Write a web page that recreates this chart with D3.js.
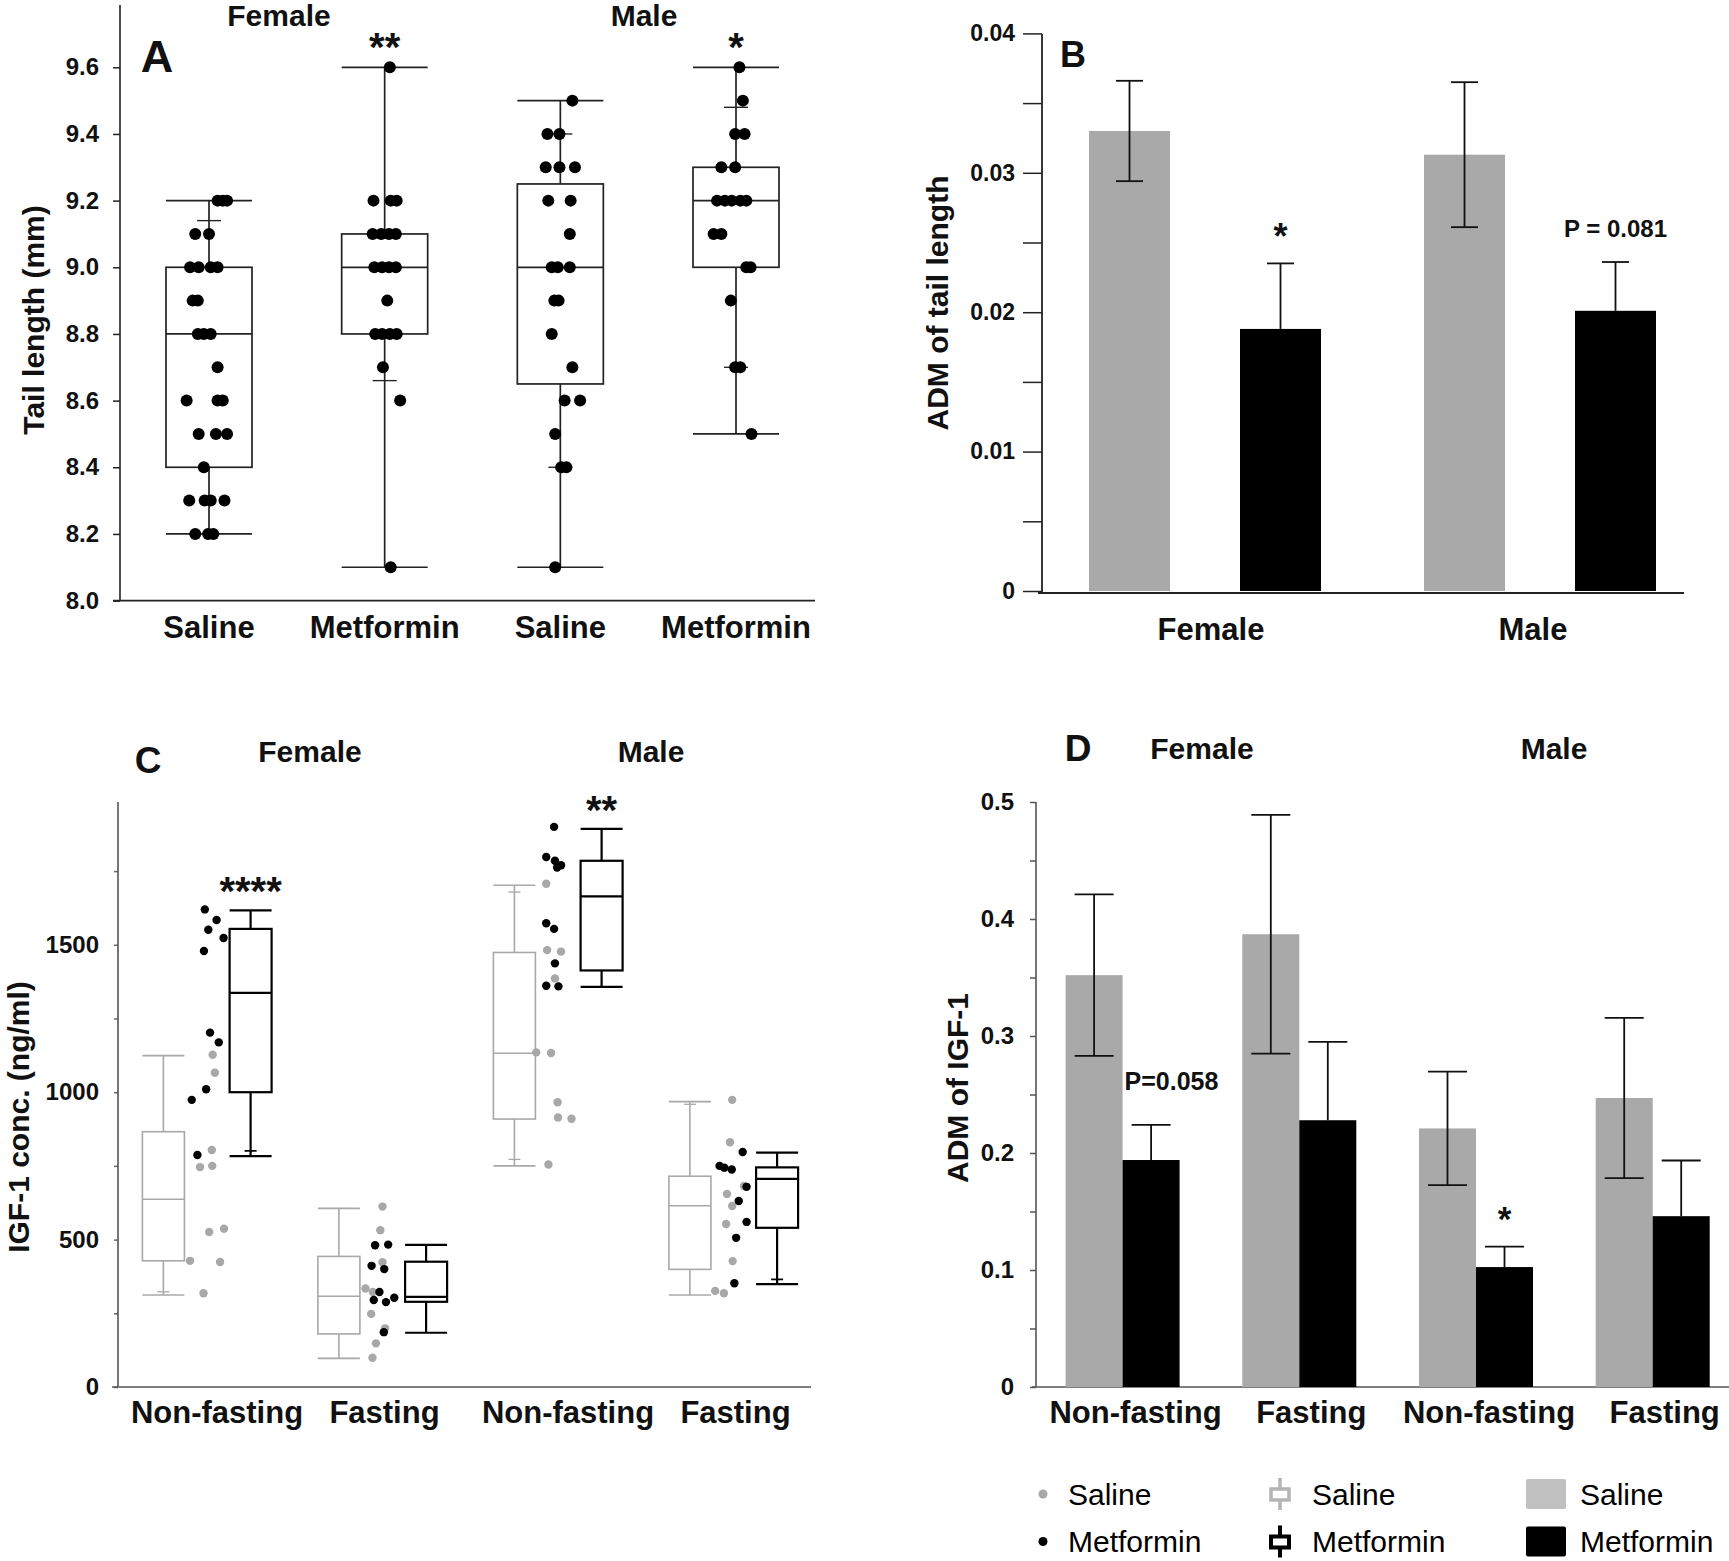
<!DOCTYPE html>
<html>
<head>
<meta charset="utf-8">
<script src="https://cdn.jsdelivr.net/npm/d3@7"></script>
<style>
  body { margin: 0; background: #fff; }
</style>
</head>
<body>
<svg id="fig" width="1729" height="1561"></svg>
<script>
/* Four-panel figure: tail length (A, B) and IGF-1 (C, D), saline vs metformin */

// ── Panel A: tail length box plots ─────────────────────────────
const tailGroups = ['F-Saline', 'F-Metformin', 'M-Saline', 'M-Metformin'];
const tailTickLabels = ['Saline', 'Metformin', 'Saline', 'Metformin'];
const tailYTicks = [8.0, 8.2, 8.4, 8.6, 8.8, 9.0, 9.2, 9.4, 9.6];
// [min, q1, median, q3, max]
const tailBoxes = [
  [8.2, 8.4, 8.8, 9.0, 9.2],
  [8.1, 8.8, 9.0, 9.1, 9.6],
  [8.1, 8.65, 9.0, 9.25, 9.5],
  [8.5, 9.0, 9.2, 9.3, 9.6]
];
const tailPctMarks = [[9.14], [8.66], [9.40, 8.40], [9.48, 8.70]];
const tailStars = ['', '**', '', '*'];
// [value, jitter as share of box width]
const tailPoints = [
  [[9.2,0.10],[9.2,0.16],[9.2,0.21],[9.1,-0.16],[9.1,0.0],[9.0,-0.22],[9.0,-0.12],[9.0,0.02],[9.0,0.10],
   [8.9,-0.19],[8.9,-0.13],[8.8,-0.13],[8.8,-0.06],[8.8,0.02],[8.7,0.10],[8.6,-0.26],[8.6,0.10],[8.6,0.16],
   [8.5,-0.12],[8.5,0.08],[8.5,0.21],[8.4,-0.06],[8.3,-0.23],[8.3,-0.05],[8.3,0.02],[8.3,0.18],
   [8.2,-0.16],[8.2,-0.01],[8.2,0.05]],
  [[9.6,0.06],[9.2,-0.13],[9.2,0.07],[9.2,0.14],[9.1,-0.14],[9.1,-0.04],[9.1,0.05],[9.1,0.13],
   [9.0,-0.12],[9.0,-0.03],[9.0,0.05],[9.0,0.13],[8.9,0.03],[8.8,-0.11],[8.8,-0.03],[8.8,0.06],[8.8,0.14],
   [8.7,-0.02],[8.6,0.18],[8.1,0.07]],
  [[9.5,0.14],[9.4,-0.15],[9.4,-0.01],[9.3,-0.17],[9.3,-0.01],[9.3,0.17],[9.2,-0.14],[9.2,0.12],[9.1,0.11],
   [9.0,-0.10],[9.0,-0.03],[9.0,0.11],[8.9,-0.07],[8.9,-0.02],[8.8,-0.10],[8.7,0.14],[8.6,0.05],[8.6,0.23],
   [8.5,-0.06],[8.4,0.01],[8.4,0.07],[8.1,-0.06]],
  [[9.6,0.04],[9.5,0.08],[9.4,-0.01],[9.4,0.10],[9.3,-0.17],[9.3,-0.01],[9.2,-0.22],[9.2,-0.13],[9.2,-0.05],
   [9.2,0.05],[9.2,0.12],[9.1,-0.26],[9.1,-0.17],[9.0,0.12],[9.0,0.17],[8.9,-0.06],[8.7,-0.01],[8.7,0.05],
   [8.5,0.18]]
];

// ── Panel B: ADM of tail length ─────────────────────────────────
const sexes = ['Female', 'Male'];
const tailAdmSaline = [0.0330, 0.0313];
const tailAdmSalineErr = [0.0036, 0.0052];
const tailAdmMetformin = [0.0188, 0.0201];
const tailAdmMetforminErr = [0.0047, 0.0035];
const tailAdmNotes = ['*', 'P = 0.081'];
const tailAdmTicks = [0, 0.005, 0.01, 0.015, 0.02, 0.025, 0.03, 0.035, 0.04];

// ── Panel C: IGF-1 box plots ────────────────────────────────────
const igfConds = ['F-NF', 'F-F', 'M-NF', 'M-F'];
const igfCondLabels = ['Non-fasting', 'Fasting', 'Non-fasting', 'Fasting'];
const igfYTicks = [0, 250, 500, 750, 1000, 1250, 1500, 1750];
const igfSalineBoxes = [
  [312, 428, 637, 866, 1124],
  [97, 180, 308, 443, 606],
  [750, 909, 1132, 1474, 1702],
  [312, 399, 615, 715, 968]
];
const igfMetforminBoxes = [
  [783, 1000, 1337, 1554, 1617],
  [184, 289, 306, 425, 482],
  [1357, 1413, 1664, 1785, 1893],
  [349, 540, 706, 745, 795]
];
const igfSalineMarks = [[323], [], [1679, 772], [959]];
const igfMetforminMarks = [[801], [], [], [365]];
const igfStars = ['****', '', '**', ''];
// [value, jitter as share of box offset]
const igfSalinePoints = [
  [[1127,0.13],[1066,0.18],[804,0.11],[746,-0.16],[750,0.12],[526,0.05],[537,0.39],[428,-0.39],[424,0.30],[318,-0.08]],
  [[612,0.0],[532,-0.05],[423,0.0],[334,-0.39],[322,-0.22],[248,-0.26],[199,0.06],[148,-0.15],[99,-0.23]],
  [[1707,-0.27],[1482,-0.25],[1477,0.07],[1386,-0.07],[1135,-0.5],[1133,-0.16],[966,-0.01],[914,0.0],[910,0.31],[755,-0.22]],
  [[974,-0.03],[830,-0.08],[682,0.24],[655,-0.15],[614,-0.03],[553,-0.17],[427,-0.02],[326,-0.42],[318,-0.22]]
];
const igfMetforminPoints = [
  [[1620,-0.05],[1584,0.22],[1551,0.03],[1523,0.38],[1479,-0.07],[1202,0.07],[1169,0.27],[1010,-0.02],[974,-0.35],[787,-0.22]],
  [[481,-0.17],[483,0.13],[411,-0.25],[400,0.04],[322,-0.07],[295,-0.2],[288,0.08],[303,0.27],[186,0.03]],
  [[1900,-0.09],[1798,-0.27],[1785,-0.07],[1770,0.07],[1762,-0.02],[1573,-0.27],[1554,-0.09],[1437,-0.07],[1361,-0.27],[1359,0.01]],
  [[797,0.21],[750,-0.32],[744,-0.21],[738,-0.04],[679,0.30],[631,0.12],[560,0.30],[506,0.06],[352,0.02]]
];

// ── Panel D: ADM of IGF-1 ───────────────────────────────────────
const igfAdmSaline = [0.352, 0.387, 0.221, 0.247];
const igfAdmSalineErr = [0.069, 0.102, 0.0485, 0.0685];
const igfAdmMetformin = [0.194, 0.228, 0.1025, 0.146];
const igfAdmMetforminErr = [0.030, 0.067, 0.0175, 0.0476];
const igfAdmNotes = ['P=0.058', '', '*', ''];
const igfAdmTicks = [0, 0.05, 0.1, 0.15, 0.2, 0.25, 0.3, 0.35, 0.4, 0.45, 0.5];

const legendLabels = ['Saline', 'Metformin'];

/* ── helpers ─────────────────────────────────────────────────── */
const FONT = '"Liberation Sans", Arial, Helvetica, sans-serif';
const GRAY = '#a9a9a9';
const svg = d3.select('#fig');

function txt(x, y, s, size, opt = {}) {
  return svg.append('text')
    .attr('x', x).attr('y', y)
    .attr('font-family', FONT).attr('font-size', size)
    .attr('font-weight', opt.weight ?? 700)
    .attr('text-anchor', opt.anchor ?? 'middle')
    .attr('fill', opt.fill ?? '#111')
    .text(s);
}
function vtxt(cx, cy, s, size) {
  return svg.append('text')
    .attr('transform', `translate(${cx},${cy}) rotate(-90)`)
    .attr('dy', '0.36em')
    .attr('font-family', FONT).attr('font-size', size).attr('font-weight', 700)
    .attr('text-anchor', 'middle').attr('fill', '#111')
    .text(s);
}
function line(x1, y1, x2, y2, color, w) {
  return svg.append('line')
    .attr('x1', x1).attr('y1', y1).attr('x2', x2).attr('y2', y2)
    .attr('stroke', color).attr('stroke-width', w);
}
function yAxis(x, scale, ticks, fmt, size, pad, fs, color) {
  const g = svg.append('g').attr('transform', `translate(${x},0)`)
    .call(d3.axisLeft(scale).tickValues(ticks).tickFormat(fmt).tickSize(size).tickPadding(pad));
  g.select('.domain').remove();
  g.attr('font-family', FONT).attr('font-size', fs).attr('font-weight', 700);
  g.selectAll('line').attr('stroke', color).attr('stroke-width', 1.5);
  g.selectAll('text').attr('fill', '#111');
  return g;
}
function drawBox(cx, y, s, marks, w, color, sw, markW) {
  const [mn, q1, md, q3, mx] = s;
  const g = svg.append('g').attr('stroke', color).attr('stroke-width', sw).attr('fill', 'none');
  g.append('line').attr('x1', cx).attr('x2', cx).attr('y1', y(mx)).attr('y2', y(q3));
  g.append('line').attr('x1', cx).attr('x2', cx).attr('y1', y(q1)).attr('y2', y(mn));
  [mn, mx].forEach(v => g.append('line')
    .attr('x1', cx - w / 2).attr('x2', cx + w / 2).attr('y1', y(v)).attr('y2', y(v)));
  marks.forEach(v => g.append('line')
    .attr('x1', cx - markW / 2).attr('x2', cx + markW / 2).attr('y1', y(v)).attr('y2', y(v))
    .attr('stroke-width', sw * 0.8));
  g.append('rect').attr('x', cx - w / 2).attr('y', y(q3))
    .attr('width', w).attr('height', y(q1) - y(q3)).attr('fill', '#fff');
  g.append('line').attr('x1', cx - w / 2).attr('x2', cx + w / 2).attr('y1', y(md)).attr('y2', y(md));
}
// whiskers drawn both ways, or only upward when the lower half would sit inside a black bar
function errBar(cx, y, mean, err, capW, upOnly) {
  const lo = upOnly ? mean : mean - err;
  const g = svg.append('g').attr('stroke', '#111').attr('stroke-width', 1.8);
  g.append('line').attr('x1', cx).attr('x2', cx).attr('y1', y(lo)).attr('y2', y(mean + err));
  (upOnly ? [mean + err] : [mean - err, mean + err]).forEach(v => g.append('line')
    .attr('x1', cx - capW / 2).attr('x2', cx + capW / 2).attr('y1', y(v)).attr('y2', y(v)));
}

/* ── Panel A ─────────────────────────────────────────────────── */
{
  const x = d3.scalePoint().domain(tailGroups).range([209, 736]);
  const y = d3.scaleLinear().domain([8.0, 9.6]).range([600.6, 67.3]);
  const BW = 86;

  yAxis(120, y, tailYTicks, d3.format('.1f'), 7, 14, 24, '#222');
  line(120, y(8.0), 120, 5, '#222', 1.6);
  line(113, y(8.0), 815, y(8.0), '#222', 1.6);

  tailGroups.forEach((grp, i) => {
    const cx = x(grp);
    drawBox(cx, y, tailBoxes[i], tailPctMarks[i], BW, '#222', 1.7, 24);
    svg.append('g').selectAll('circle').data(tailPoints[i]).join('circle')
      .attr('cx', d => cx + d[1] * BW).attr('cy', d => y(d[0]))
      .attr('r', 6).attr('fill', '#000');
    if (tailStars[i]) txt(cx, y(tailBoxes[i][4]) - 28 + 22, tailStars[i], 40);
    txt(cx, 638, tailTickLabels[i], 31);
  });

  txt(157, 72, 'A', 45);
  txt(279, 26, 'Female', 30);
  txt(644, 26, 'Male', 30);
  vtxt(33, 320, 'Tail length (mm)', 30);
}

/* ── Panel B ─────────────────────────────────────────────────── */
{
  const x = d3.scalePoint().domain(sexes).range([1205, 1540]);
  const y = d3.scaleLinear().domain([0, 0.04]).range([591, 33.4]);
  const OFF = 75.5, BW = 81;

  yAxis(1042, y, tailAdmTicks,
    d => d === 0 ? '0' : (Math.round(d * 1000) % 10 === 0 ? d3.format('.2f')(d) : ''),
    19, 8, 23, '#222');
  line(1042, y(0) + 2, 1042, 34, '#222', 1.8);
  line(1038, y(0) + 2, 1684, y(0) + 2, '#222', 1.8);

  sexes.forEach((s, i) => {
    const c = x(s);
    svg.append('rect').attr('x', c - OFF - BW / 2).attr('y', y(tailAdmSaline[i]))
      .attr('width', BW).attr('height', y(0) - y(tailAdmSaline[i])).attr('fill', GRAY);
    svg.append('rect').attr('x', c + OFF - BW / 2).attr('y', y(tailAdmMetformin[i]))
      .attr('width', BW).attr('height', y(0) - y(tailAdmMetformin[i])).attr('fill', '#000');
    errBar(c - OFF, y, tailAdmSaline[i], tailAdmSalineErr[i], 27, false);
    errBar(c + OFF, y, tailAdmMetformin[i], tailAdmMetforminErr[i], 27, true);
    const top = y(tailAdmMetformin[i] + tailAdmMetforminErr[i]);
    if (tailAdmNotes[i] === '*') txt(c + OFF, top - 34 + 20, '*', 36);
    else txt(c + OFF, top - 34 + 9, tailAdmNotes[i], 24);
    txt(c + (i === 0 ? 6 : -7), 640, s, 31);
  });

  txt(1073, 67, 'B', 36);
  vtxt(937.5, 303, 'ADM of tail length', 30);
}

/* ── Panel C ─────────────────────────────────────────────────── */
{
  const x = d3.scalePoint().domain(igfConds).range([207, 733.5]);
  const y = d3.scaleLinear().domain([0, 2000]).range([1387, 797.4]);
  const OFF = 43.6, BW = 42;

  yAxis(118, y, igfYTicks, d => d % 500 === 0 ? d3.format('d')(d) : '', 4, 15, 24, '#666');
  line(118, y(0), 118, y(1984), '#555', 1.6);
  line(112, y(0), 811, y(0), '#555', 1.6);

  igfConds.forEach((cnd, i) => {
    const c = x(cnd);
    drawBox(c - OFF, y, igfSalineBoxes[i], igfSalineMarks[i], BW, '#a8a8a8', 1.6, 12);
    drawBox(c + OFF, y, igfMetforminBoxes[i], igfMetforminMarks[i], BW, '#000', 2.2, 12);
    svg.append('g').selectAll('circle').data(igfSalinePoints[i]).join('circle')
      .attr('cx', d => c + d[1] * OFF).attr('cy', d => y(d[0]))
      .attr('r', 4.2).attr('fill', '#a8a8a8');
    svg.append('g').selectAll('circle').data(igfMetforminPoints[i]).join('circle')
      .attr('cx', d => c + d[1] * OFF).attr('cy', d => y(d[0]))
      .attr('r', 4.2).attr('fill', '#000');
    if (igfStars[i]) txt(c + OFF, y(igfMetforminBoxes[i][4]) - 27 + 22, igfStars[i], 40);
    txt(c + (i % 2 === 0 ? 10 : 2), 1423, igfCondLabels[i], 31);
  });

  txt(148, 773, 'C', 37);
  txt(310, 762, 'Female', 30);
  txt(651, 762, 'Male', 30);
  vtxt(18, 1117, 'IGF-1 conc. (ng/ml)', 30);
}

/* ── Panel D ─────────────────────────────────────────────────── */
{
  const x = d3.scalePoint().domain(igfConds).range([1122.6, 1652.7]);
  const y = d3.scaleLinear().domain([0, 0.5]).range([1387, 802]);
  const BW = 57;

  yAxis(1036, y, igfAdmTicks,
    d => d === 0 ? '0' : (Math.round(d * 100) % 10 === 0 ? d3.format('.1f')(d) : ''),
    6, 16, 24, '#555');
  line(1036, y(0), 1036, y(0.5), '#555', 1.6);
  line(1032, y(0), 1729, y(0), '#555', 1.6);

  igfConds.forEach((cnd, i) => {
    const c = x(cnd);
    svg.append('rect').attr('x', c - BW).attr('y', y(igfAdmSaline[i]))
      .attr('width', BW).attr('height', y(0) - y(igfAdmSaline[i])).attr('fill', GRAY);
    svg.append('rect').attr('x', c).attr('y', y(igfAdmMetformin[i]))
      .attr('width', BW).attr('height', y(0) - y(igfAdmMetformin[i])).attr('fill', '#000');
    errBar(c - BW / 2, y, igfAdmSaline[i], igfAdmSalineErr[i], 39, false);
    errBar(c + BW / 2, y, igfAdmMetformin[i], igfAdmMetforminErr[i], 39, true);
    const top = y(igfAdmMetformin[i] + igfAdmMetforminErr[i]);
    if (igfAdmNotes[i] === '*') txt(c + BW / 2, top - 36 + 20, '*', 35);
    else if (igfAdmNotes[i]) txt(c + 2, top - 44 + 9, igfAdmNotes[i], 25, { anchor: 'start' });
    txt(c + (i % 2 === 0 ? 13 : 12), 1423, igfCondLabels[i], 31);
  });

  txt(1078, 761, 'D', 37);
  txt(1202, 759, 'Female', 30);
  txt(1554, 759, 'Male', 30);
  vtxt(957, 1088, 'ADM of IGF-1', 30);
}

/* ── Legend ──────────────────────────────────────────────────── */
{
  const rows = [1494, 1541.5];
  const cols = ['#a8a8a8', '#000'];
  legendLabels.forEach((lab, i) => {
    const yy = rows[i];
    svg.append('circle').attr('cx', 1043).attr('cy', yy).attr('r', 4.5).attr('fill', cols[i]);
    txt(1068, yy + 10.5, lab, 30, { weight: 400, anchor: 'start', fill: '#000' });

    const g = svg.append('g').attr('stroke', i === 0 ? '#b4b4b4' : '#000')
      .attr('stroke-width', i === 0 ? 3.5 : 4).attr('fill', 'none');
    g.append('line').attr('x1', 1280).attr('x2', 1280).attr('y1', yy - 16).attr('y2', yy + 16);
    g.append('rect').attr('x', 1271).attr('y', yy - 5).attr('width', 18).attr('height', 11).attr('fill', '#fff');
    txt(1312, yy + 10.5, lab, 30, { weight: 400, anchor: 'start', fill: '#000' });

    svg.append('rect').attr('x', 1526).attr('y', yy - 15).attr('width', 40).attr('height', 30)
      .attr('rx', 2).attr('fill', i === 0 ? '#c0c0c0' : '#000');
    txt(1580, yy + 10.5, lab, 30, { weight: 400, anchor: 'start', fill: '#000' });
  });
}
</script>
</body>
</html>
